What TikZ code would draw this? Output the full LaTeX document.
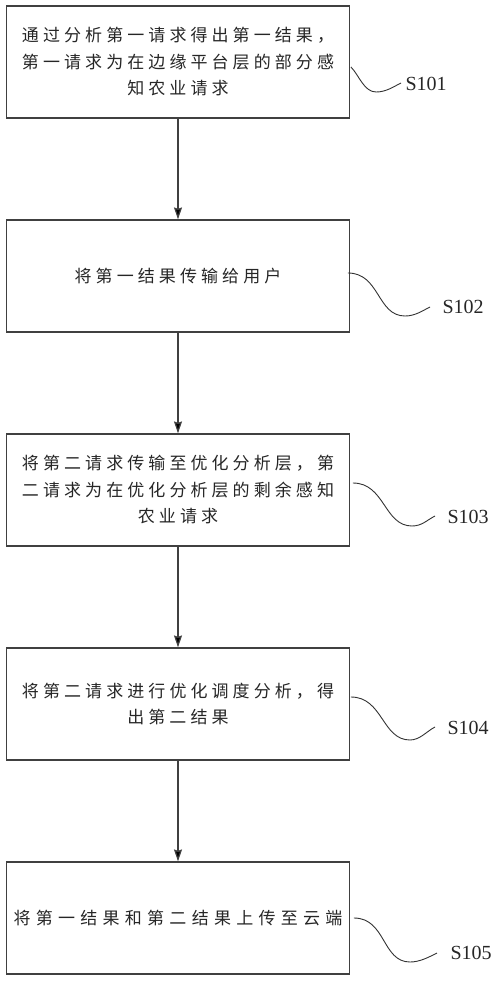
\documentclass[tikz,border=0pt]{standalone}
\usepackage{fontspec}
\setmainfont{Liberation Serif}
\newfontfamily\cjk[LetterSpace=24]{Noto Sans CJK SC}
\newfontfamily\cjkwide[LetterSpace=31]{Noto Sans CJK SC}
\usepackage{tikz}
\usetikzlibrary{arrows,arrows.meta,calc}

\begin{document}
\begin{tikzpicture}[x=1pt,y=-1pt,->,>={Stealth[length=12pt,width=8pt,inset=1.5pt]},
                    auto,node distance=214pt,line width=1.2pt]
  \tikzstyle{stepbox}=[rectangle,draw=black!75,fill=white,minimum width=342pt,
                       minimum height=112pt,text width=336pt,align=center,text=black!85,
                       font=\cjk\fontsize{17pt}{26.5pt}\selectfont]
  \tikzstyle{tag}=[anchor=west,inner sep=0pt,text=black!85,font=\fontsize{20pt}{24pt}\selectfont]
  \tikzstyle{wave}=[-,draw=black!80,line width=0.9pt]

  \useasboundingbox (0,0) rectangle (500,982);

  \node[stepbox] (b1) at (178,62)  {通过分析第一请求得出第一结果，\\第一请求为在边缘平台层的部分感\\知农业请求};
  \node[stepbox] (b2) [below of=b1] {将第一结果传输给用户};
  \node[stepbox] (b3) [below of=b2] {将第二请求传输至优化分析层，第\\二请求为在优化分析层的剩余感知\\农业请求};
  \node[stepbox] (b4) [below of=b3] {将第二请求进行优化调度分析，得\\出第二结果};
  \node[stepbox,font=\cjkwide\fontsize{17pt}{26.5pt}\selectfont] (b5) [below of=b4] {将第一结果和第二结果上传至云端};

  \node[tag] (s1) at (405,84)  {S101};
  \node[tag] (s2) at (442,307) {S102};
  \node[tag] (s3) at (447,517) {S103};
  \node[tag] (s4) at (447,728) {S104};
  \node[tag] (s5) at (450,953) {S105};

  \path[draw=black!75] (b1) edge (b2)
        (b2) edge (b3)
        (b3) edge (b4)
        (b4) edge (b5);

  % wavy leaders to the step labels
  \draw[wave] ($(b1.east)+(1,5)$) .. controls +(8,8) and +(-12,0) .. ($(s1.west)+(-29,8)$)
              .. controls +(10,0) and +(-8,4) .. ($(s1.west)+(-4,-1)$);
  \draw[wave] ($(b2.east)+(-2,-3)$) .. controls +(32,0) and +(-28,0) .. ($(s2.west)+(-37,9)$)
              .. controls +(10,0) and +(-8,4) .. ($(s2.west)+(-12,0)$);
  \draw[wave] ($(b3.east)+(3,-7)$) .. controls +(32,0) and +(-28,0) .. ($(s3.west)+(-35,9)$)
              .. controls +(10,0) and +(-8,4) .. ($(s3.west)+(-12,-1)$);
  \draw[wave] ($(b4.east)+(1,-7)$) .. controls +(32,0) and +(-28,0) .. ($(s4.west)+(-37,12)$)
              .. controls +(10,0) and +(-8,4) .. ($(s4.west)+(-12,-1)$);
  \draw[wave] ($(b5.east)+(4,0)$) .. controls +(32,0) and +(-28,0) .. ($(s5.west)+(-40,9)$)
              .. controls +(10,0) and +(-8,4) .. ($(s5.west)+(-13,0)$);
\end{tikzpicture}
\end{document}
